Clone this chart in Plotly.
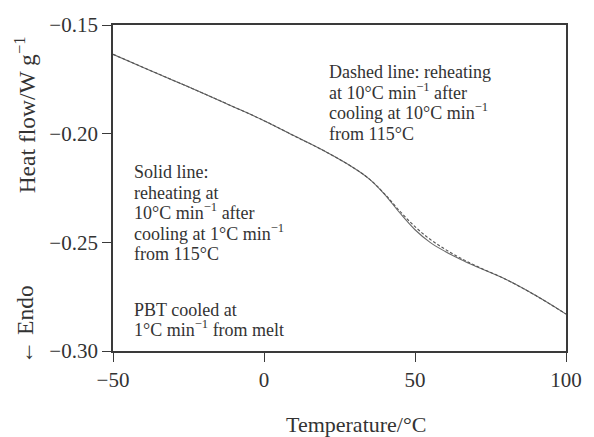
import plotly.graph_objects as go

temperature = [-50, -40, -30, -20, -10, 0, 10, 20, 30, 35, 40, 45, 50, 55, 60, 65, 70, 80, 90, 100]
solid_heat_flow = [-0.1635, -0.1695, -0.1755, -0.1815, -0.1877, -0.1940, -0.2010, -0.2080, -0.2160,
                   -0.2210, -0.2280, -0.2365, -0.2442, -0.2500, -0.2542, -0.2578, -0.2610, -0.2670,
                   -0.2745, -0.2830]
dashed_heat_flow = [-0.1635, -0.1695, -0.1755, -0.1815, -0.1877, -0.1940, -0.2010, -0.2080, -0.2160,
                    -0.2210, -0.2278, -0.2357, -0.2428, -0.2486, -0.2532, -0.2572, -0.2607, -0.2670,
                    -0.2745, -0.2830]
x_ticks = [-50, 0, 50, 100]
y_ticks = [-0.30, -0.25, -0.20, -0.15]

dashed_note = ["Dashed line: reheating", "at 10°C min<sup>−1</sup> after",
               "cooling at 10°C min<sup>−1</sup>", "from 115°C"]
solid_note = ["Solid line:", "reheating at", "10°C min<sup>−1</sup> after",
              "cooling at 1°C min<sup>−1</sup>", "from 115°C"]
sample_note = ["PBT cooled at", "1°C min<sup>−1</sup> from melt"]

FONT = "Liberation Serif"
AX = "#3a3a3a"
TXT = "#333333"
W, H = 594, 437
L, R, T, B = 113, 21, 25, 86
PW, PH = W - L - R, H - T - B


def px_to_paper(px, py):
    return (px - L) / PW, (H - B - py) / PH


fig = go.Figure()
fig.add_trace(go.Scatter(x=temperature, y=solid_heat_flow, mode="lines",
                         line=dict(color="#6a6a6a", width=1.1, shape="spline"),
                         showlegend=False))
fig.add_trace(go.Scatter(x=temperature, y=dashed_heat_flow, mode="lines",
                         line=dict(color="#555555", width=1.1, dash="3px,2px", shape="spline"),
                         showlegend=False))

axis_common = dict(showgrid=False, zeroline=False, showline=True, linecolor=AX, linewidth=1.8,
                   mirror=True, ticks="outside", ticklen=9, tickwidth=1, tickcolor=AX,
                   tickfont=dict(family=FONT, size=21, color=TXT))
fig.update_xaxes(range=[-50, 100], tickvals=x_ticks,
                 ticktext=[("−" + str(-v)) if v < 0 else str(v) for v in x_ticks], **axis_common)
fig.update_yaxes(range=[-0.30, -0.15], tickvals=y_ticks, tickformat=".2f", **axis_common)

# axis titles
x0, y0 = px_to_paper(360, 424)
fig.add_annotation(x=x0, y=y0, xref="paper", yref="paper", xanchor="center", yanchor="middle",
                   text="Temperature/°C", showarrow=False, font=dict(family=FONT, size=22, color=TXT))
x0, y0 = px_to_paper(24, 115)
fig.add_annotation(x=x0, y=y0, xref="paper", yref="paper", xanchor="center", yanchor="middle",
                   text="Heat flow/W g<sup>−1</sup>", textangle=-90, showarrow=False,
                   font=dict(family=FONT, size=23.5, color=TXT))
x0, y0 = px_to_paper(24, 325)
fig.add_annotation(x=x0, y=y0, xref="paper", yref="paper", xanchor="center", yanchor="middle",
                   text="← Endo", textangle=-90, showarrow=False,
                   font=dict(family=FONT, size=23.5, color=TXT))


def add_block(lines, left_px, first_center_px, spacing_px):
    for i, line in enumerate(lines):
        # anchor at the bottom of each line so superscripts do not shift the baseline
        xa, ya = px_to_paper(left_px, first_center_px + i * spacing_px + 11)
        fig.add_annotation(x=xa, y=ya, xref="paper", yref="paper", xanchor="left", yanchor="bottom",
                           text=line, showarrow=False, align="left", borderpad=0,
                           font=dict(family=FONT, size=18, color=TXT))


add_block(dashed_note, 331, 72, 20.7)
add_block(solid_note, 133, 172, 20.6)
add_block(sample_note, 133, 310, 20)

fig.update_layout(width=W, height=H, margin=dict(l=L, r=R, t=T, b=B),
                  plot_bgcolor="white", paper_bgcolor="white", font=dict(family=FONT))
fig.write_html("out.html")
